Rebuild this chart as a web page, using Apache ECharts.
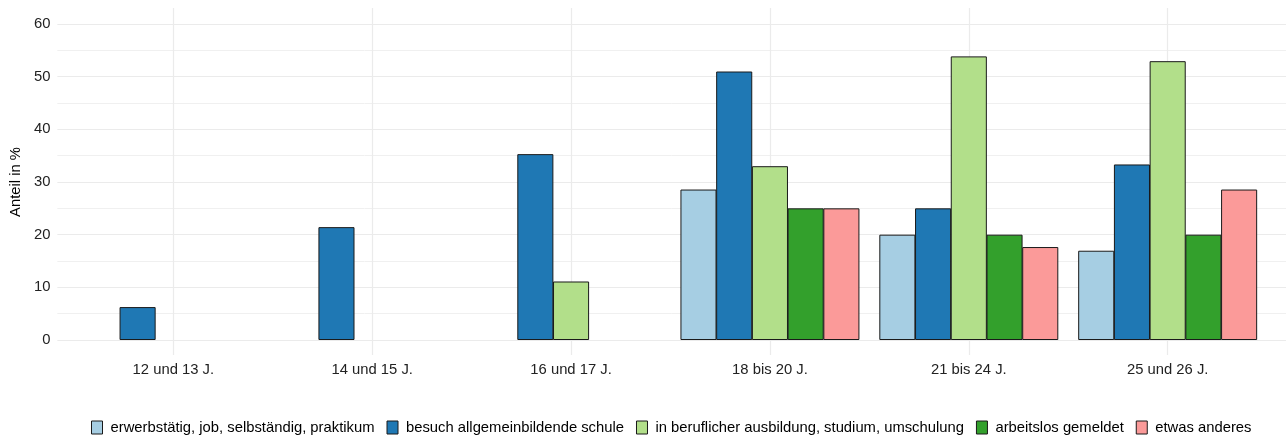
<!doctype html>
<html lang="de">
  <head>
    <meta charset="UTF-8" />
    <title>Anteil in %</title>
    <script src="https://cdn.jsdelivr.net/npm/echarts@6/dist/echarts.min.js"></script>
    <style>
      html, body { margin: 0; padding: 0; background: #fff; }
      #chart { width: 1286px; height: 436px; }
    </style>
  </head>
  <body>
    <div id="chart"></div>
    <script>
      // Data
      var categories = ['12 und 13 J.', '14 und 15 J.', '16 und 17 J.', '18 bis 20 J.', '21 bis 24 J.', '25 und 26 J.'];
      var seriesNames = [
        'erwerbstätig, job, selbständig, praktikum',
        'besuch allgemeinbildende schule',
        'in beruflicher ausbildung, studium, umschulung',
        'arbeitslos gemeldet',
        'etwas anderes'
      ];
      var erwerbstaetig = [null, null, null, 28.57, 20.0, 16.95];
      var schule = [6.25, 21.43, 35.29, 50.98, 25.0, 33.33];
      var ausbildung = [null, null, 11.11, 33.0, 53.85, 52.94];
      var arbeitslos = [null, null, null, 25.0, 20.0, 20.0];
      var anderes = [null, null, null, 25.0, 17.65, 28.57];
      var yTicks = [0, 10, 20, 30, 40, 50, 60];

      var colors = ['#A6CEE3', '#1F78B4', '#B2DF8A', '#33A02C', '#FB9A99'];
      var font = 'Liberation Sans, Arial, sans-serif';
      var fs = 14.8;

      var chart = echarts.init(document.getElementById('chart'), null, { renderer: 'canvas' });

      // band width of one category (ggplot discrete axis keeps 0.6 band padding each side)
      var plotLeft = 54, plotWidth = 1233;
      var band = plotWidth / (categories.length + 0.2);
      var barLeft = plotLeft + 0.1 * band;

      function bar(name, data, i) {
        return {
          name: name,
          type: 'bar',
          xAxisIndex: 1,
          yAxisIndex: 1,
          data: data,
          barGap: '-1%',
          barCategoryGap: '10%',
          itemStyle: { color: colors[i], borderColor: '#1a1a1a', borderWidth: 1 },
          emphasis: { disabled: true }
        };
      }

      chart.setOption({
        animation: false,
        textStyle: { fontFamily: font },
        grid: [
          { left: plotLeft, width: plotWidth, top: 24, height: 316 },
          { left: barLeft, width: band * categories.length, top: 24, height: 316 },
          { left: barLeft + band / 2, width: band * (categories.length - 1), top: 8, height: 347 }
        ],
        xAxis: [
          { gridIndex: 0, type: 'value', show: false, min: 0, max: 1 },
          {
            gridIndex: 1, type: 'category', data: categories,
            axisLine: { show: false }, axisTick: { show: false }, splitLine: { show: false },
            axisLabel: { color: '#222', fontSize: fs, margin: 22, fontFamily: font }
          },
          {
            gridIndex: 2, type: 'category', data: categories, boundaryGap: false,
            axisLine: { show: false }, axisTick: { show: false }, axisLabel: { show: false },
            splitLine: { show: true, lineStyle: { color: '#EBEBEB', width: 1.2 } }
          }
        ],
        yAxis: [
          {
            gridIndex: 0, type: 'value', min: 0, max: 60, interval: 10,
            name: 'Anteil in %', nameLocation: 'middle', nameGap: 31, nameRotate: 90,
            nameTextStyle: { color: '#000', fontSize: fs, fontFamily: font },
            axisLine: { show: false }, axisTick: { show: false },
            axisLabel: {
              color: '#222', fontSize: fs, margin: 7, fontFamily: font,
              formatter: function (v) { return yTicks.indexOf(v) >= 0 ? String(v) : ''; }
            },
            splitLine: { show: true, lineStyle: { color: '#EBEBEB', width: 1.2 } },
            minorTick: { show: false, splitNumber: 2 },
            minorSplitLine: { show: true, lineStyle: { color: '#F0F0F0', width: 1 } }
          },
          { gridIndex: 1, type: 'value', min: 0, max: 60, show: false },
          { gridIndex: 2, type: 'value', min: 0, max: 1, show: false }
        ],
        legend: {
          data: seriesNames,
          top: 420,
          left: 91,
          padding: 0,
          icon: 'rect',
          itemWidth: 11,
          itemHeight: 13,
          itemGap: 12,
          textStyle: { color: '#000', fontSize: fs, fontFamily: font, padding: [0, 0, 0, 3] },
          itemStyle: { borderColor: '#1a1a1a', borderWidth: 1 },
          selectedMode: false
        },
        series: [
          bar(seriesNames[0], erwerbstaetig, 0),
          bar(seriesNames[1], schule, 1),
          bar(seriesNames[2], ausbildung, 2),
          bar(seriesNames[3], arbeitslos, 3),
          bar(seriesNames[4], anderes, 4)
        ]
      });
    </script>
  </body>
</html>
